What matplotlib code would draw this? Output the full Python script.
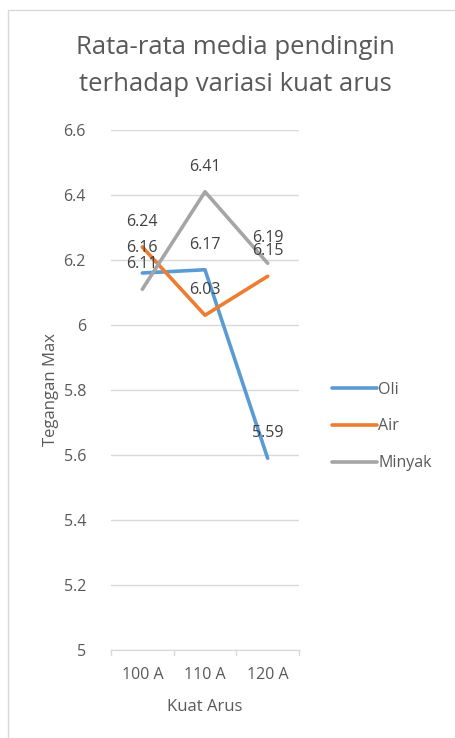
import matplotlib.pyplot as plt
from matplotlib.patches import Rectangle

categories = ["100 A", "110 A", "120 A"]
oli = [6.16, 6.17, 5.59]
air = [6.24, 6.03, 6.15]
minyak = [6.11, 6.41, 6.19]
series = [("Oli", oli, "#5B9BD5"), ("Air", air, "#ED7D31"), ("Minyak", minyak, "#A5A5A5")]

plt.rcParams['font.family'] = ['Open Sans', 'DejaVu Sans']
txt = "#595959"

fig = plt.figure(figsize=(4.56, 7.38), dpi=100)
fig.patches.append(Rectangle((8/456, -0.01), 1.0, 1 - 10/738 + 0.01, transform=fig.transFigure,
                             fill=False, edgecolor="#d9d9d9", linewidth=1))
ax = fig.add_axes([111/456, 88/738, 188/456, 520/738])

x = range(len(categories))
for name, vals, col in series:
    ax.plot(x, vals, color=col, linewidth=2.6, label=name, solid_capstyle="round")
    for xi, v in zip(x, vals):
        ax.annotate(f"{v:.2f}", (xi, v), xytext=(0, 18), textcoords="offset points",
                    ha="center", va="center", fontsize=11.5, color="#404040")

ax.set_xlim(-0.5, 2.5)
ax.set_ylim(5, 6.6)
ax.set_yticks([5, 5.2, 5.4, 5.6, 5.8, 6, 6.2, 6.4, 6.6])
ax.set_yticklabels(["5", "5.2", "5.4", "5.6", "5.8", "6", "6.2", "6.4", "6.6"])
ax.set_xticks(list(x))
ax.set_xticklabels(categories)
ax.grid(axis="y", color="#d9d9d9", linewidth=1)
ax.set_axisbelow(True)
for s in ["top", "right", "left"]:
    ax.spines[s].set_visible(False)
ax.spines["bottom"].set_color("#d9d9d9")
ax.tick_params(axis="y", length=0, pad=18, labelsize=11.5, labelcolor=txt)
ax.tick_params(axis="x", length=0, pad=12, labelsize=11.5, labelcolor=txt)
# category boundary ticks
for b in [-0.5, 0.5, 1.5, 2.5]:
    ax.plot([b, b], [5, 5 - 0.015], color="#d9d9d9", linewidth=1, clip_on=False)

ax.set_xlabel("Kuat Arus", fontsize=12, color=txt, labelpad=12)
ax.set_ylabel("Tegangan Max", fontsize=12, color=txt, labelpad=3)

fig.text(235/456, 1 - 66/738, "Rata-rata media pendingin\nterhadap variasi kuat arus",
         ha="center", va="center", fontsize=18.5, color=txt, linespacing=1.6)

ax.legend(loc="center left", bbox_to_anchor=(1.1, 0.43), frameon=False,
          fontsize=11.5, labelcolor=txt, handlelength=2.8, handletextpad=0.1,
          labelspacing=1.3)

fig.savefig("out.png", dpi=100)
